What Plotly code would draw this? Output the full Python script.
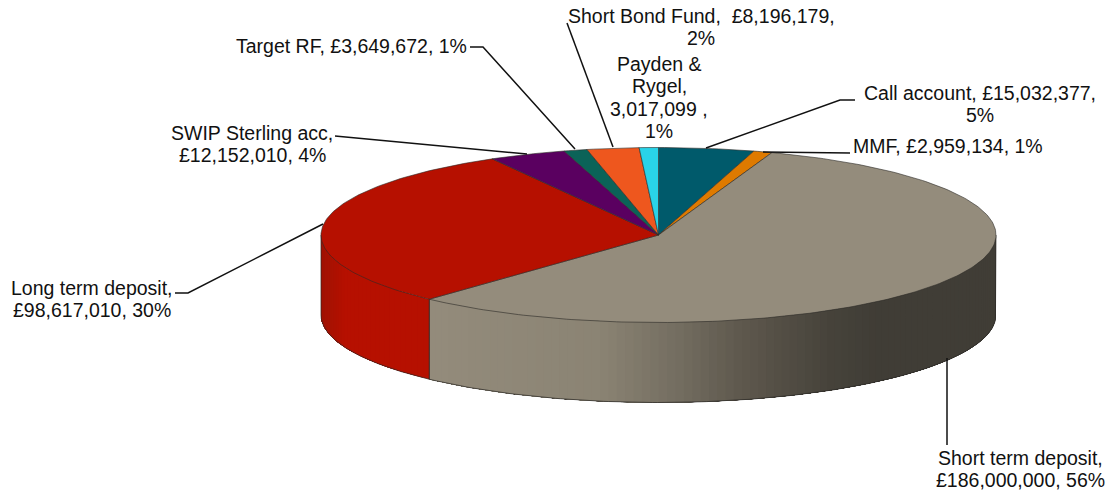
import numpy as np
import plotly.graph_objects as go

categories = ["Call account", "MMF", "Short term deposit", "Long term deposit",
              "SWIP Sterling acc", "Target RF", "Short Bond Fund", "Payden & Rygel"]
values = [15032377, 2959134, 186000000, 98617010, 12152010, 3649672, 8196179, 3017099]
colors = ["#005A6B", "#DE7A00", "#948C7C", "#B61000", "#5A0060", "#0B6358", "#EE571E", "#29D3E8"]
label_lines = [
    ["Call account, £15,032,377,", "5%"],
    ["MMF, £2,959,134, 1%"],
    ["Short term deposit,", "£186,000,000, 56%"],
    ["Long term deposit,", "£98,617,010, 30%"],
    ["SWIP Sterling acc,", "£12,152,010, 4%"],
    ["Target RF, £3,649,672, 1%"],
    ["Short Bond Fund,  £8,196,179,", "2%"],
    ["Payden &", "Rygel,", "3,017,099 ,", "1%"],
]
label_pos = [(980, 93), (948, 146), (1020, 458), (92, 288), (252, 133), (351, 46), (701, 16), (659, 64)]
LINE_GAP = 22.4
FONT_SIZE = 19.5
leaders = [
    ([855, 840, 706], [100, 100, 148]),
    ([850, 763], [153, 152]),
    ([947, 947], [445, 358]),
    ([175, 188, 323], [293, 293, 224]),
    ([335, 527], [136, 154]),
    ([470, 483, 575], [47, 47, 149]),
    ([567, 613], [23, 147]),
]

CX, CY, RX, RY, DEPTH = 658.5, 235.0, 337.5, 87.5, 80.0
EDGE = "#2b2a26"


def rim(t):
    return CX + RX * np.sin(t), CY - RY * np.cos(t)


def hex2rgb(h):
    return np.array([int(h[i:i + 2], 16) for i in (1, 3, 5)], float)


def shade(cat, x):
    if cat == "Short term deposit":
        stops_x = [429, 600, 680, 740, 830, 880, 996]
        stops_c = ["#948C7C", "#8B8474", "#736D60", "#5F594E", "#47433B", "#403D36", "#403D36"]
    else:
        stops_x = [321, 345, 430]
        stops_c = ["#A01204", "#B61000", "#B61000"]
    arr = np.array([hex2rgb(c) for c in stops_c])
    return "rgb(%d,%d,%d)" % tuple(np.interp(x, stops_x, arr[:, i]) for i in range(3))


fig = go.Figure()
fractions = np.array(values, float) / sum(values)
ends = np.cumsum(fractions) * 2 * np.pi
starts = ends - fractions * 2 * np.pi

# front wall: each band runs to the far end of the slice and is overdrawn by the next, so no seams
for cat, a, b in zip(categories, starts, ends):
    lo, hi = max(a, np.pi / 2), min(b, 3 * np.pi / 2)
    if lo >= hi:
        continue
    # draw from the slice's far side so the gradient is continuous whichever way x runs
    edges = np.linspace(lo, hi, int((hi - lo) * 40) + 2)
    for t0 in edges[:-1]:
        ts = np.linspace(t0, hi, 60)
        x, y = rim(ts)
        px = np.r_[x, x[::-1], x[0]]
        py = np.r_[y, (y + DEPTH)[::-1], y[0]]
        c = shade(cat, rim(t0 + (edges[1] - edges[0]) / 2)[0])
        fig.add_trace(go.Scatter(x=px, y=py, mode="lines", fill="toself", fillcolor=c,
                                 line=dict(width=0), hoverinfo="skip", showlegend=False))
    ts = np.linspace(lo, hi, 160)
    x, y = rim(ts)
    fig.add_trace(go.Scatter(x=np.r_[x[0], x, x[-1]],
                             y=np.r_[y[0], y + DEPTH, y[-1]],
                             mode="lines", line=dict(color=EDGE, width=0.7),
                             hoverinfo="skip", showlegend=False))

# top face
for cat, a, b, col in zip(categories, starts, ends, colors):
    ts = np.linspace(a, b, max(int((b - a) * 60), 6))
    x, y = rim(ts)
    fig.add_trace(go.Scatter(x=np.r_[CX, x, CX], y=np.r_[CY, y, CY], mode="lines", fill="toself",
                             fillcolor=col, line=dict(color=EDGE, width=0.6),
                             name=cat, hovertemplate=cat + "<extra></extra>", showlegend=False))

for lx, ly in leaders:
    fig.add_trace(go.Scatter(x=lx, y=ly, mode="lines", line=dict(color="#111111", width=1.5),
                             hoverinfo="skip", showlegend=False))

for lines, (x, y) in zip(label_lines, label_pos):
    for i, txt in enumerate(lines):
        fig.add_annotation(x=x, y=y + i * LINE_GAP, text=txt, showarrow=False,
                           xanchor="center", yanchor="middle", align="center",
                           font=dict(family="Liberation Sans, Arial, sans-serif",
                                     size=FONT_SIZE, color="#111111"))

fig.update_layout(width=1105, height=492, margin=dict(l=0, r=0, t=0, b=0),
                  paper_bgcolor="white", plot_bgcolor="white",
                  xaxis=dict(range=[0, 1105], visible=False, fixedrange=True),
                  yaxis=dict(range=[492, 0], visible=False, fixedrange=True))
fig.write_html("out.html", config={"displayModeBar": False},
               post_script="document.body.style.margin='0';document.body.style.overflow='hidden';")
